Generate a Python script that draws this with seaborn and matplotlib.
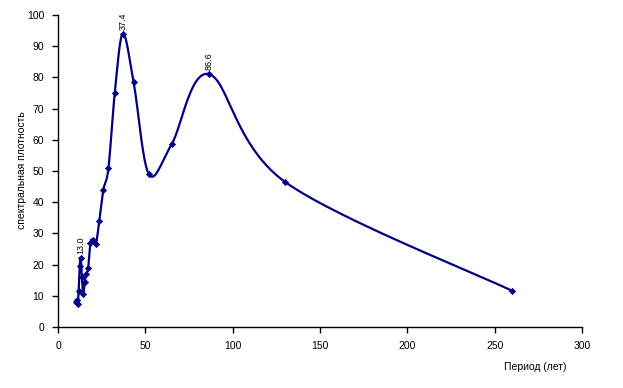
import numpy as np
import pandas as pd
import matplotlib
matplotlib.use("Agg")
import matplotlib.pyplot as plt
import seaborn as sns

# Data (period in years, spectral density)
period = [10.4, 10.8, 11.3, 11.8, 12.4, 13.0, 13.7, 14.4, 15.3, 16.25, 17.3, 18.6, 20.0,
          21.7, 23.6, 26.0, 28.9, 32.5, 37.1, 43.3, 52.0, 65.0, 86.7, 130.0, 260.0]
density = [8.0, 8.5, 7.5, 11.5, 19.5, 22.0, 16.0, 10.5, 14.5, 17.0, 19.0, 27.0, 28.0,
           26.5, 34.0, 44.0, 51.0, 75.0, 94.0, 78.5, 49.0, 58.5, 81.0, 46.5, 11.6]
peak_x = [13.0, 37.1, 86.7]
peak_y = [22.0, 94.0, 81.0]
peak_labels = ["13,0", "37,4", "86,6"]
x_ticks = [0, 50, 100, 150, 200, 250, 300]
y_ticks = [0, 10, 20, 30, 40, 50, 60, 70, 80, 90, 100]

sns.set_theme(style="white")
plt.rcParams['font.family'] = ['Liberation Sans', 'DejaVu Sans']

fig = plt.figure(figsize=(6.23, 3.88), dpi=100)
ax = fig.add_axes([58/623, 1-327/388, (582-58)/623, (327-15)/388])

# Excel-like smooth line: Catmull-Rom / Bezier in screen-proportional space
sx, sy = 524/300, 312/100
P = np.column_stack([np.array(period)*sx, np.array(density)*sy])
n = len(P)
curve = []
for i in range(n-1):
    p0 = P[max(i-1, 0)]; p1 = P[i]; p2 = P[i+1]; p3 = P[min(i+2, n-1)]
    c1 = p1 + (p2 - p0)/6
    c2 = p2 - (p3 - p1)/6
    t = np.linspace(0, 1, 30)[:, None]
    seg = (1-t)**3*p1 + 3*(1-t)**2*t*c1 + 3*(1-t)*t**2*c2 + t**3*p2
    curve.append(seg if i == 0 else seg[1:])
curve = np.vstack(curve)
cdf = pd.DataFrame({"x": curve[:, 0]/sx, "y": curve[:, 1]/sy, "o": np.arange(len(curve))})

sns.lineplot(data=cdf, x="x", y="y", sort=False, color="#000080", lw=1.6, ax=ax, estimator=None)
sns.scatterplot(x=period, y=density, marker="D", s=10, color="#000080",
                edgecolor="#000080", linewidth=0.5, ax=ax, zorder=3)

for px, py, lab in zip(peak_x, peak_y, peak_labels):
    ax.annotate(lab.replace(",", "."), (px, py), xytext=(0, 3), textcoords="offset points",
                rotation=90, ha="center", va="bottom", fontsize=6.5, color="black")

ax.set_xlim(0, 300)
ax.set_ylim(0, 100)
ax.set_xticks(x_ticks)
ax.set_yticks(y_ticks)
ax.tick_params(axis="both", direction="out", length=4, width=1, color="black",
               labelsize=7.5, labelcolor="black", bottom=True, left=True, pad=6)
for s in ["top", "right"]:
    ax.spines[s].set_visible(False)
for s in ["left", "bottom"]:
    ax.spines[s].set_color("black")
    ax.spines[s].set_linewidth(1)
ax.set_xlabel("")
ax.set_ylabel("")
fig.text(22/623, 1-170/388, "спектральная плотность", rotation=90, ha="center", va="center",
         fontsize=7.5, color="black")
fig.text(535/623, 1-367/388, "Период (лет)", ha="center", va="center", fontsize=7.5, color="black")
ax.grid(False)
fig.savefig("out.png", dpi=100)
